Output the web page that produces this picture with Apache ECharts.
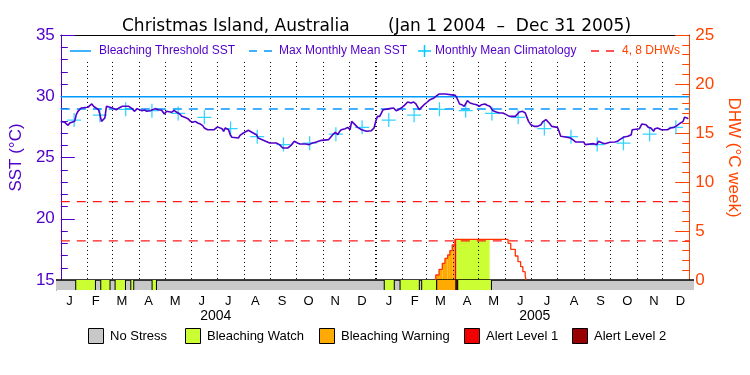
<!DOCTYPE html>
<html><head><meta charset="utf-8">
<script src="https://cdn.jsdelivr.net/npm/echarts@6/dist/echarts.min.js"></script>
<style>html,body{margin:0;padding:0;background:#fff}#c{width:750px;height:375px}</style>
</head><body><div id="c"></div>
<script>
const START = Date.UTC(2004, 0, 1);
const END = Date.UTC(2006, 0, 1);
const DAY = 86400000;
const dayToTime = d => START + d * DAY;

// Daily SST (purple), day offsets from Jan 1 2004 and °C
const sstDays = [0,4.6,8.5,10.4,16.1,18,19.9,23.7,31.4,33.3,36,38.2,40.9,44,45.5,47.4,49.7,51.2,53.1,56.2,60,64.6,67.7,71.5,79.1,82.9,85.6,88.7,94.4,97.5,100.1,104,109.7,113.5,117.3,120.4,123.1,125,128.8,131.8,134.5,138.3,141,144.1,147.9,150.9,153.6,156.3,159.3,162.4,165.1,167,170.8,178.4,182.3,187.5,189.4,191.4,193.3,195.2,197.1,199,206.6,208.5,212.4,218.1,223.8,227.6,229.6,231.5,238.3,242.9,250.6,254.4,258.2,260.1,263.9,267.8,271.6,273.5,275.4,278.1,284.9,288.8,292.6,296.4,303.3,311.7,313.6,316.3,319.3,322.4,323.9,326.2,330.8,333.8,336.5,338.4,340.3,342.2,345.3,349.9,355.6,357.5,361.3,364.4,366.3,368.4,371,372.9,374.9,382.5,384.4,387.1,390.1,392.8,395.9,399.7,403.5,407.3,410.4,413.1,415,416.9,419.5,422.6,426.4,429.5,434.1,436,439.8,447.4,449.3,458.9,460.8,463.9,466.5,469.2,471.5,473,476.1,479.9,483.7,486.8,489.5,493.3,496,499,502.8,506.6,510.5,514.3,518.1,521.9,528.8,530.3,533.4,537.2,540.3,541.8,544.1,546.8,550.6,554.7,558.6,560.5,564.3,566.2,568.1,571.2,577.7,579.6,581.5,583.4,587.2,592.9,595.6,598.7,608.2,610.1,619.7,623.5,625.4,627.3,630,633,638.8,644.5,647.6,650.2,655.2,659.8,663.6,664.7,673.2,675.8,678.1,680.8,683.5,686.5,689.6,691.1,694.2,698.7,705.6,709.4,713.3,717.1,720.9,724,725.5,728.5,730];
const sstValues = [27.95,27.87,27.62,27.82,27.95,28.5,28.77,29.04,29.1,29.18,29.37,29.18,29.04,28.9,28.5,27.95,27.82,28.22,29.18,29.12,29.04,28.9,29.04,29.18,29.18,28.99,28.77,28.99,28.82,28.88,28.77,28.82,28.99,28.9,28.85,28.55,28.77,28.82,28.69,28.85,28.71,28.55,28.36,28.28,28.17,27.95,27.87,27.95,27.82,27.73,27.6,27.41,27.27,27.27,27.5,27.35,27.14,27.41,27.46,27.27,26.86,26.65,26.59,26.81,27.0,27.22,27.0,26.86,26.59,26.46,26.32,26.18,26.18,26.05,25.77,25.64,25.77,25.99,26.32,26.37,26.18,26.1,26.1,26.05,26.18,26.24,26.4,26.46,26.59,26.86,27.05,26.86,27.08,27.27,27.35,27.46,27.27,27.95,27.82,27.68,27.46,27.27,27.14,27.27,27.19,27.41,27.95,28.36,28.36,28.63,28.9,28.99,29.09,29.04,28.82,28.9,29.04,29.26,29.53,29.45,29.53,29.37,29.26,28.9,29.09,29.31,29.53,29.72,29.86,29.99,30.18,30.18,30.07,30.07,29.86,29.37,29.31,29.18,29.45,29.64,29.45,29.37,29.31,29.18,29.31,29.37,29.26,29.18,28.82,28.71,28.63,28.63,28.5,28.36,28.36,28.5,28.71,28.77,28.63,28.36,27.95,27.68,27.54,27.54,27.68,27.9,28.09,28.0,27.82,27.54,27.46,27.14,26.73,26.59,26.67,26.59,26.46,26.27,26.27,26.05,26.13,26.05,26.32,26.37,26.18,26.13,26.24,26.27,26.32,26.46,26.67,26.73,26.86,27.27,27.35,27.73,27.82,27.68,27.46,27.41,27.14,27.35,27.41,27.27,27.27,27.41,27.46,27.62,27.82,27.95,28.28,28.22,28.17];

// Monthly mean climatology (Jan..Dec)
const climValues = [28.06,28.45,28.93,28.82,28.6,28.28,27.36,26.7,26.06,26.17,26.9,27.46];
const mmm = 28.95;
const bleachingThreshold = 29.95;
const dhwLevels = [4, 8];

// Degree heating weeks (step values starting at given day)
const dhwDays = [436.2,436.2,440,443.8,446.9,450,452.6,455.3,458.4,520.3,523.4,528.7,531.8,534.9,537.5,540.2,541.3];
const dhwValues = [0,0.51,1.09,1.7,2.21,2.55,3.0,3.57,4.15,3.74,3.13,2.45,1.87,1.36,0.85,0.4,0];

// Stress status periods (0 none,1 watch,2 warning,3 alert1,4 alert2)
const statusStart = [22.6,51.3,67.7,85.7,110.1,376.1,394.2,419,436.2,458.4,460.3];
const statusEnd   = [45.2,61.9,79.6,89.1,115.1,387.6,416.3,436.2,458.4,460.3,498.9];
const statusLevel = [1,1,1,1,1,1,1,1,2,3,1];
const statusNames = ['No Stress','Bleaching Watch','Bleaching Warning','Alert Level 1','Alert Level 2'];
const statusColors = ['#c8c8c8','#ccff33','#ffaa00','#f00000','#990000'];

const monthLetters = ['J','F','M','A','M','J','J','A','S','O','N','D'];
const years = [2004, 2005];

const PURPLE = '#5000c8', ORANGE = '#ff4400', BLUE = '#0099ff', CYAN = '#00c8ff', RED = '#ff1a1a';
const FONT = 'Liberation Sans';
const TFONT = 'DejaVu Sans';

const monthStarts = [], monthMids = [];
years.forEach(y => { for (let m = 0; m < 12; m++) {
  const a = Date.UTC(y, m, 1), b = Date.UTC(y, m + 1, 1);
  monthStarts.push(a); monthMids.push((a + b) / 2);
}});
const yearMids = years.map(y => (Date.UTC(y, 0, 1) + Date.UTC(y + 1, 0, 1)) / 2);

const dhwTimes = dhwDays.map(dayToTime);
function dhwAt(t) {
  let v = 0;
  for (let i = 0; i < dhwTimes.length; i++) { if (dhwTimes[i] <= t) v = dhwValues[i]; }
  return v;
}

const sstData = sstDays.map((d, i) => [dayToTime(d), sstValues[i]]);
const climData = monthMids.map((t, i) => [t, climValues[i % 12]]);
const dhwData = dhwDays.map((d, i) => [dayToTime(d), dhwValues[i]]);
const statusData = [[START, END, 0]].concat(statusStart.map((s, i) => [dayToTime(s), dayToTime(statusEnd[i]), statusLevel[i]]));
const fillData = statusStart.map((s, i) => [dayToTime(s), dayToTime(statusEnd[i]), statusLevel[i]]);

const monthLines = monthStarts.slice(1).map(t => {
  const yearEdge = new Date(t).getUTCMonth() === 0;
  return [{coord: [t, 32.8], lineStyle: {type: [1, 3], width: yearEdge ? 2 : 1, color: '#000'}}, {coord: [t, 15]}];
});

const plusPath = 'path://M-0.09,-1H0.09V-0.09H1V0.09H0.09V1H-0.09V0.09H-1V-0.09H-0.09Z';

const chart = echarts.init(document.getElementById('c'), null, {renderer: 'canvas'});
const option = {
  animation: false,
  backgroundColor: '#fff',
  textStyle: {fontFamily: FONT},
  title: [
    {text: 'Christmas Island, Australia', left: 117, top: 13, textStyle: {fontFamily: TFONT, fontSize: 17, fontWeight: 'normal', color: '#000'}},
    {text: '(Jan 1 2004  –  Dec 31 2005)', left: 383, top: 13, textStyle: {fontFamily: TFONT, fontSize: 17, fontWeight: 'normal', color: '#000'}}
  ],
  grid: [
    {left: 56, right: 56, top: 35, height: 245},
    {left: 56, right: 56, top: 280, height: 10}
  ],
  xAxis: [
    {type: 'value', gridIndex: 0, min: START, max: END, position: 'bottom',
     axisLine: {lineStyle: {color: '#000', width: 1}}, axisTick: {show: false}, axisLabel: {show: false}, splitLine: {show: false}},
    {type: 'value', gridIndex: 0, min: START, max: END, position: 'top',
     axisLine: {lineStyle: {color: '#000', width: 1}}, axisTick: {show: false}, axisLabel: {show: false}, splitLine: {show: false}},
    {type: 'value', gridIndex: 1, min: START, max: END, position: 'bottom',
     axisLine: {show: false}, axisTick: {show: false}, splitLine: {show: false},
     axisLabel: {customValues: monthMids, margin: 5, fontFamily: FONT, fontSize: 13, color: '#000',
       formatter: v => monthLetters[new Date(v).getUTCMonth()]}},
    {type: 'value', gridIndex: 1, min: START, max: END, position: 'bottom',
     axisLine: {show: false}, axisTick: {show: false}, splitLine: {show: false},
     axisLabel: {customValues: yearMids, margin: 19, fontFamily: FONT, fontSize: 14, color: '#000',
       formatter: v => String(new Date(v).getUTCFullYear())}}
  ],
  yAxis: [
    {type: 'value', gridIndex: 0, min: 15, max: 35, interval: 5, position: 'left',
     name: 'SST (°C)', nameLocation: 'middle', nameGap: 32,
     nameTextStyle: {color: PURPLE, fontFamily: FONT, fontSize: 17},
     axisLine: {show: true, lineStyle: {color: PURPLE, width: 1}},
     axisTick: {show: true, inside: true, length: 14, lineStyle: {color: PURPLE}},
     minorTick: {show: true, splitNumber: 5, length: 7, lineStyle: {color: PURPLE}},
     axisLabel: {color: PURPLE, fontFamily: FONT, fontSize: 17, margin: 6},
     splitLine: {show: false}},
    {type: 'value', gridIndex: 0, min: 0, max: 25, interval: 5, position: 'right',
     name: 'DHW (°C week)', nameLocation: 'middle', nameGap: 27, nameRotate: -90,
     nameTextStyle: {color: ORANGE, fontFamily: FONT, fontSize: 17},
     axisLine: {show: true, lineStyle: {color: ORANGE, width: 1}},
     axisTick: {show: true, inside: true, length: 14, lineStyle: {color: ORANGE}},
     minorTick: {show: true, splitNumber: 5, length: 7, lineStyle: {color: ORANGE}},
     axisLabel: {color: ORANGE, fontFamily: FONT, fontSize: 17, margin: 6},
     splitLine: {show: false}},
    {type: 'value', gridIndex: 1, min: 0, max: 1, position: 'left',
     axisLine: {show: true, lineStyle: {color: PURPLE, width: 1}},
     axisTick: {show: false}, axisLabel: {show: false}, splitLine: {show: false}}
  ],
  series: [
    {type: 'custom', name: 'status fill', xAxisIndex: 0, yAxisIndex: 1, z: 1, silent: true,
     data: fillData,
     renderItem: (params, api) => {
       const s = api.value(0), e = api.value(1), lvl = api.value(2);
       const bps = [s].concat(dhwTimes.filter(t => t > s && t < e), [e]);
       const children = [];
       for (let k = 0; k < bps.length - 1; k++) {
         const a = bps[k], b = bps[k + 1];
         const v = dhwAt((a + b) / 2);
         if (v > 0) {
           const p0 = api.coord([a, v]), p1 = api.coord([b, 0]);
           children.push({type: 'rect', shape: {x: p0[0], y: p0[1], width: p1[0] - p0[0], height: p1[1] - p0[1]},
             style: {fill: statusColors[lvl]}});
         }
       }
       return {type: 'group', children};
     }},
    {type: 'line', name: 'SST', xAxisIndex: 0, yAxisIndex: 0, data: sstData, showSymbol: false, z: 5,
     lineStyle: {color: PURPLE, width: 1.6},
     markLine: {silent: true, symbol: 'none', label: {show: false}, animation: false, data: monthLines}},
    {type: 'line', name: 'Bleaching Threshold SST', xAxisIndex: 0, yAxisIndex: 0, showSymbol: false, z: 3,
     data: [[START, bleachingThreshold], [END, bleachingThreshold]], lineStyle: {color: BLUE, width: 1.5}},
    {type: 'line', name: 'Max Monthly Mean SST', xAxisIndex: 0, yAxisIndex: 0, showSymbol: false, z: 3,
     data: [[START, mmm], [END, mmm]], lineStyle: {color: BLUE, width: 1.5, type: [9, 7]}},
    {type: 'scatter', name: 'Monthly Mean Climatology', xAxisIndex: 0, yAxisIndex: 0, z: 4,
     data: climData, symbol: plusPath, symbolSize: 14, itemStyle: {color: CYAN}},
    {type: 'line', name: '4 DHW', xAxisIndex: 0, yAxisIndex: 1, showSymbol: false, z: 3,
     data: [[START, dhwLevels[0]], [END, dhwLevels[0]]], lineStyle: {color: RED, width: 1.2, type: [9, 7]}},
    {type: 'line', name: '8 DHW', xAxisIndex: 0, yAxisIndex: 1, showSymbol: false, z: 3,
     data: [[START, dhwLevels[1]], [END, dhwLevels[1]]], lineStyle: {color: RED, width: 1.2, type: [9, 7]}},
    {type: 'line', name: 'DHW', xAxisIndex: 0, yAxisIndex: 1, showSymbol: false, step: 'end', z: 4,
     data: dhwData, lineStyle: {color: '#ff3300', width: 1.3}},
    {type: 'custom', name: 'status bar', xAxisIndex: 2, yAxisIndex: 2, z: 2, silent: true,
     data: statusData,
     renderItem: (params, api) => {
       const s = api.value(0), e = api.value(1), lvl = api.value(2);
       const p0 = api.coord([s, 1]), p1 = api.coord([e, 0]);
       const children = [{type: 'rect', shape: {x: p0[0], y: p0[1], width: p1[0] - p0[0], height: p1[1] - p0[1]},
         style: {fill: statusColors[lvl]}}];
       if (lvl === 0) {
         children.push({type: 'line', shape: {x1: p0[0], y1: p0[1], x2: p1[0], y2: p0[1]}, style: {stroke: '#000', lineWidth: 1.5}});
       } else {
         children.push({type: 'line', shape: {x1: p0[0], y1: p0[1], x2: p0[0], y2: p1[1]}, style: {stroke: '#000', lineWidth: 1}});
         children.push({type: 'line', shape: {x1: p1[0], y1: p0[1], x2: p1[0], y2: p1[1]}, style: {stroke: '#000', lineWidth: 1}});
       }
       return {type: 'group', children};
     }}
  ],
  graphic: [
    {type: 'line', shape: {x1: 70, y1: 51, x2: 91, y2: 51}, style: {stroke: BLUE, lineWidth: 1.5}},
    {type: 'text', x: 99, y: 51, style: {text: 'Bleaching Threshold SST', fill: PURPLE, font: '12px ' + FONT, verticalAlign: 'middle'}},
    {type: 'line', shape: {x1: 249, y1: 51, x2: 273, y2: 51}, style: {stroke: BLUE, lineWidth: 1.5, lineDash: [8, 7]}},
    {type: 'text', x: 279, y: 51, style: {text: 'Max Monthly Mean SST', fill: PURPLE, font: '12px ' + FONT, verticalAlign: 'middle'}},
    {type: 'line', shape: {x1: 418, y1: 51, x2: 431, y2: 51}, style: {stroke: CYAN, lineWidth: 1.5}},
    {type: 'line', shape: {x1: 424.5, y1: 45, x2: 424.5, y2: 57}, style: {stroke: CYAN, lineWidth: 1.5}},
    {type: 'text', x: 435, y: 51, style: {text: 'Monthly Mean Climatology', fill: PURPLE, font: '12px ' + FONT, verticalAlign: 'middle'}},
    {type: 'line', shape: {x1: 591, y1: 51, x2: 615, y2: 51}, style: {stroke: RED, lineWidth: 1.5, lineDash: [8, 7]}},
    {type: 'text', x: 622, y: 51, style: {text: '4, 8 DHWs', fill: ORANGE, font: '12px ' + FONT, verticalAlign: 'middle'}},
    ...[88, 185, 319, 464, 572].flatMap((x, i) => [
      {type: 'rect', shape: {x: x + 0.5, y: 328.5, width: 15, height: 15}, style: {fill: statusColors[i], stroke: '#000', lineWidth: 1}},
      {type: 'text', x: x + 22, y: 336, style: {text: statusNames[i], fill: '#000', font: '13px ' + FONT, verticalAlign: 'middle'}}
    ])
  ]
};
chart.setOption(option);
</script>
</body></html>
